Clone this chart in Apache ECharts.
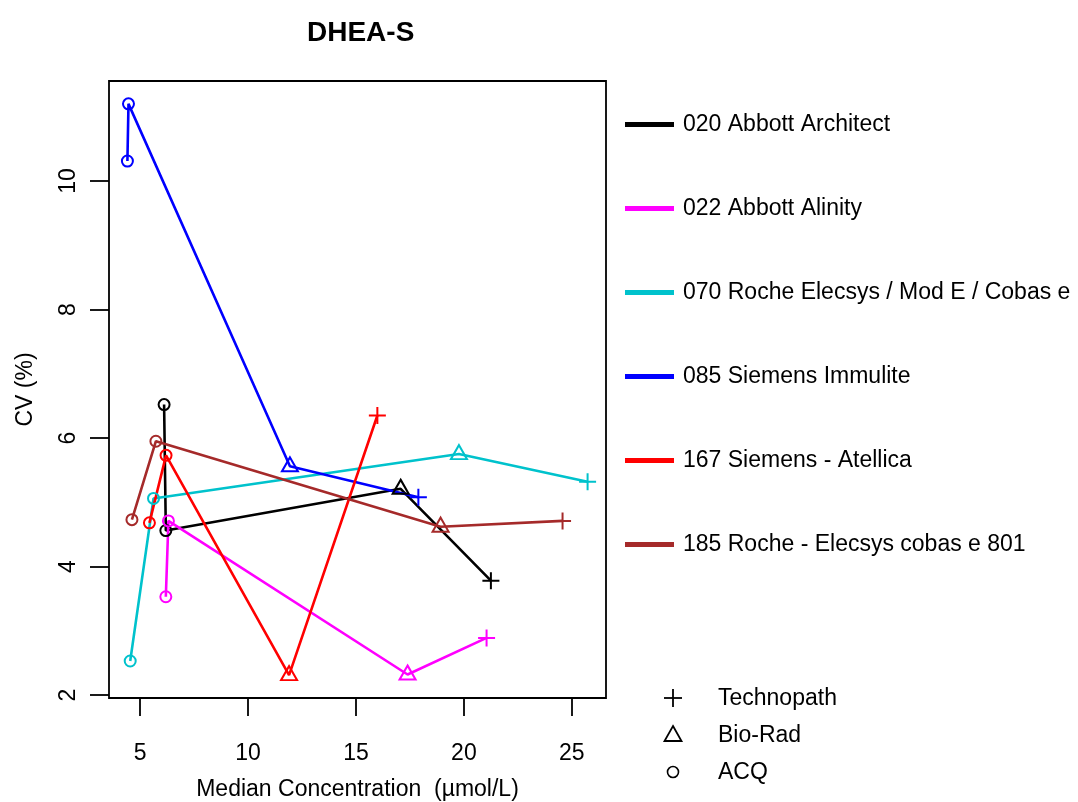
<!DOCTYPE html>
<html>
<head>
<meta charset="utf-8">
<title>DHEA-S</title>
<script src="https://cdn.jsdelivr.net/npm/echarts@6/dist/echarts.min.js"></script>
<style>
html, body { margin: 0; padding: 0; background: #fff; }
#chart { width: 1078px; height: 802px; }
</style>
</head>
<body>
<div id="chart"></div>
<script>
var methods = [
	'020 Abbott Architect',
	'022 Abbott Alinity',
	'070 Roche Elecsys / Mod E / Cobas e',
	'085 Siemens Immulite',
	'167 Siemens - Atellica',
	'185 Roche - Elecsys cobas e 801'
];
var colors = ['#000000', '#FF00FF', '#00C2CC', '#0000FF', '#FF0000', '#A52A2A'];

// material of each point, same order for every method
var pointMaterial = ['ACQ', 'ACQ', 'Bio-Rad', 'Technopath'];
// median concentration (umol/L)
var conc = [
	[6.11, 6.19, 17.07, 21.25],
	[6.19, 6.31, 17.39, 21.05],
	[4.54, 5.62, 19.77, 25.73],
	[4.41, 4.46, 11.94, 17.89],
	[5.43, 6.20, 11.90, 15.99],
	[4.62, 5.73, 18.92, 24.57]
];
// CV (%)
var cv = [
	[6.52, 4.56, 5.21, 3.78],
	[3.53, 4.71, 2.32, 2.89],
	[2.53, 5.06, 5.75, 5.32],
	[10.31, 11.20, 5.56, 5.08],
	[4.68, 5.73, 2.31, 6.35],
	[4.73, 5.95, 4.62, 4.71]
];
var shapes = ['Technopath', 'Bio-Rad', 'ACQ'];
var xTicks = [5, 10, 15, 20, 25];
var yTicks = [2, 4, 6, 8, 10];

var font = 'Liberation Sans, Arial, sans-serif';
var symbols = {
	'Technopath': { symbol: 'path://M-1,0L1,0M0,-1L0,1', symbolSize: 17, symbolOffset: [0, 0] },
	'Bio-Rad': { symbol: 'path://M0,-1.5L1.732,1.5L-1.732,1.5Z', symbolSize: [16, 14], symbolOffset: [0, -2] },
	'ACQ': { symbol: 'circle', symbolSize: 11, symbolOffset: [0, 0] }
};

// R style axis range: data range padded by 4%
function padRange(arr) {
	var all = [].concat.apply([], arr);
	var lo = Math.min.apply(null, all), hi = Math.max.apply(null, all);
	var d = (hi - lo) * 0.04;
	return [lo - d, hi + d];
}
var xr = padRange(conc), yr = padRange(cv);

var series = methods.map(function(name, i) {
	return {
		name: name,
		type: 'line',
		color: colors[i],
		lineStyle: { color: colors[i], width: 2.6 },
		itemStyle: { color: 'transparent', borderColor: colors[i], borderWidth: 2 },
		emphasis: { disabled: true },
		animation: false,
		data: conc[i].map(function(x, j) {
			var s = symbols[pointMaterial[j]];
			return {
				value: [x, cv[i][j]],
				symbol: s.symbol,
				symbolSize: s.symbolSize,
				symbolOffset: s.symbolOffset
			};
		})
	};
});

// legend of sample materials (drawn beside the plot)
var shapeLegend = [];
shapes.forEach(function(name, i) {
	var cy = 698 + i * 37;
	var icon;
	if (name === 'Technopath') {
		icon = { type: 'group', children: [
			{ type: 'line', shape: { x1: 664, y1: cy, x2: 682, y2: cy }, style: { stroke: '#000', lineWidth: 1.8 } },
			{ type: 'line', shape: { x1: 673, y1: cy - 9, x2: 673, y2: cy + 9 }, style: { stroke: '#000', lineWidth: 1.8 } }
		] };
	} else if (name === 'Bio-Rad') {
		icon = { type: 'polygon', shape: { points: [[673, cy - 9], [681.5, cy + 6], [664.5, cy + 6]] }, style: { fill: 'none', stroke: '#000', lineWidth: 1.8 } };
	} else {
		icon = { type: 'circle', shape: { cx: 673, cy: cy, r: 5.5 }, style: { fill: 'none', stroke: '#000', lineWidth: 1.6 } };
	}
	shapeLegend.push(icon);
	shapeLegend.push({ type: 'text', x: 718, y: cy + 1, style: { text: name, font: '23px ' + font, fill: '#000', verticalAlign: 'middle' } });
});

var chart = echarts.init(document.getElementById('chart'));
var option = {
	backgroundColor: '#ffffff',
	animation: false,
	title: {
		text: 'DHEA-S',
		left: 302,
		top: 14,
		textStyle: { fontSize: 28, fontWeight: 'bold', color: '#000', fontFamily: font }
	},
	grid: {
		left: 109, right: 472, top: 81, bottom: 104,
		show: true, borderColor: '#000', borderWidth: 1.8,
		outerBoundsMode: 'none'
	},
	legend: {
		orient: 'vertical',
		left: 625,
		top: 113,
		padding: 0,
		itemGap: 61,
		itemWidth: 49,
		itemHeight: 5,
		icon: 'rect',
		selectedMode: false,
		textStyle: { fontSize: 23, color: '#000', fontFamily: font, lineHeight: 23, padding: [0, 0, 0, 4] },
		data: methods.map(function(name, i) {
			return { name: name, icon: 'rect', itemStyle: { color: colors[i], borderWidth: 0 } };
		})
	},
	xAxis: {
		type: 'value',
		min: xr[0], max: xr[1],
		name: 'Median Concentration  (\u00b5mol/L)',
		nameLocation: 'middle',
		nameGap: 80,
		nameTextStyle: { fontSize: 23, color: '#000', fontFamily: font },
		axisLine: { show: false },
		axisTick: { show: true, length: 18, customValues: xTicks, lineStyle: { color: '#000', width: 1.8 } },
		axisLabel: { customValues: xTicks, margin: 44, fontSize: 23, color: '#000', fontFamily: font },
		splitLine: { show: false }
	},
	yAxis: {
		type: 'value',
		min: yr[0], max: yr[1],
		name: 'CV (%)',
		nameLocation: 'middle',
		nameGap: 72,
		nameRotate: 90,
		nameTextStyle: { fontSize: 23, color: '#000', fontFamily: font },
		axisLine: { show: false },
		axisTick: { show: true, length: 19, customValues: yTicks, lineStyle: { color: '#000', width: 1.8 } },
		axisLabel: { customValues: yTicks, rotate: 90, margin: 29, fontSize: 23, color: '#000', fontFamily: font },
		splitLine: { show: false }
	},
	graphic: shapeLegend,
	series: series
};
chart.setOption(option);
</script>
</body>
</html>
